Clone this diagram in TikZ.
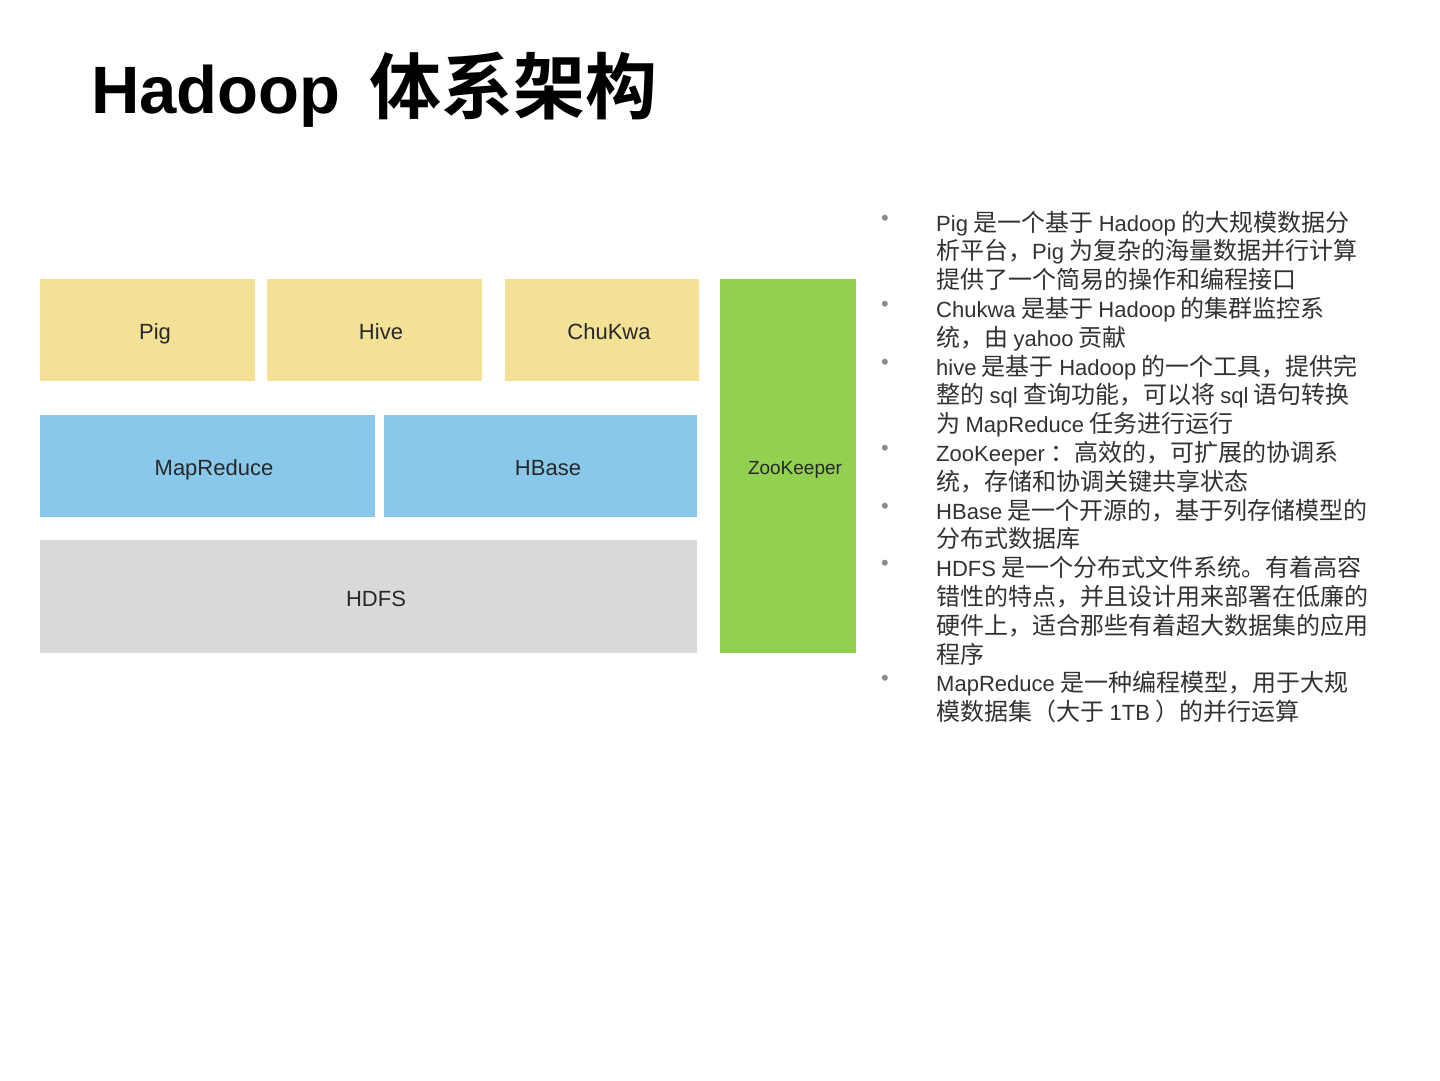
\documentclass[tikz,border=0pt]{standalone}
\usepackage{fontspec}
\setmainfont{Liberation Sans}
\newfontfamily\latin{Liberation Sans}
\newfontfamily\cjk{Noto Sans CJK SC}
\newfontfamily\cjkbf{Noto Sans CJK SC Bold}
\newcommand\en[1]{{\latin\fontsize{22}{28}\selectfont #1}}
\definecolor{ybox}{RGB}{243,225,150}
\definecolor{bbox}{RGB}{137,200,234}
\definecolor{gbox}{RGB}{217,217,217}
\definecolor{zbox}{RGB}{146,208,80}
\definecolor{labc}{RGB}{40,40,40}
\definecolor{txtc}{RGB}{50,50,50}
\definecolor{bulc}{RGB}{140,140,140}
\tikzset{
  block/.style={draw=none, inner sep=0pt, outer sep=0pt, anchor=north west},
  lab/.style={anchor=base, inner sep=0pt, text=labc, font=\latin\fontsize{22}{26}\selectfont},
  line/.style={anchor=base west, inner sep=0pt, text=txtc, font=\cjk\fontsize{24}{28}\selectfont},
  bul/.style={anchor=center, inner sep=0pt, text=bulc, font=\latin\fontsize{22}{24}\selectfont}
}
\begin{document}
\begin{tikzpicture}[x=1pt,y=-1pt]
\fill[white] (0,0) rectangle (1440,1080);
\useasboundingbox (0,0) rectangle (1440,1080);

% title
\node[anchor=base west, inner sep=0pt, text=black] (title) at (91,113)
  {{\latin\bfseries\fontsize{67}{80}\selectfont Hadoop}\hspace*{29pt}{\cjkbf\fontsize{72}{80}\selectfont 体系架构}};

% blocks
\node[block, fill=ybox, minimum width=215pt, minimum height=102pt] (pig) at (40,279) {};
\node[block, fill=ybox, minimum width=215pt, minimum height=102pt] (hive) at (267,279) {};
\node[block, fill=ybox, minimum width=194pt, minimum height=102pt] (chukwa) at (505,279) {};
\node[block, fill=bbox, minimum width=335pt, minimum height=102pt] (mapreduce) at (40,415) {};
\node[block, fill=bbox, minimum width=313pt, minimum height=102pt] (hbase) at (384,415) {};
\node[block, fill=gbox, minimum width=657pt, minimum height=113pt] (hdfs) at (40,540) {};
\node[block, fill=zbox, minimum width=136pt, minimum height=374pt] (zk) at (720,279) {};

% block labels
\node[lab] (pigT) at (155,339) {Pig};
\node[lab] (hiveT) at (381,339) {Hive};
\node[lab] (chukwaT) at (609,339) {ChuKwa};
\node[lab] (mapreduceT) at (214,475) {MapReduce};
\node[lab] (hbaseT) at (548,475) {HBase};
\node[lab] (hdfsT) at (376,606) {HDFS};
\node[lab, font=\latin\fontsize{19}{22}\selectfont] (zkT) at (795,474) {ZooKeeper};

% bullets
\node[bul] (b1) at (885,220) {•};
\node[bul] (b2) at (885,306.4) {•};
\node[bul] (b3) at (885,364) {•};
\node[bul] (b4) at (885,450.4) {•};
\node[bul] (b5) at (885,508) {•};
\node[bul] (b6) at (885,565.6) {•};
\node[bul] (b7) at (885,680.8) {•};

% text lines
\node[line] (t1) at (936,231) {\en{Pig} 是一个基于 \en{Hadoop} 的大规模数据分};
\node[line] (t2) at (936,259.8) {析平台，\en{Pig} 为复杂的海量数据并行计算};
\node[line] (t3) at (936,288.6) {提供了一个简易的操作和编程接口};
\node[line] (t4) at (936,317.4) {\en{Chukwa} 是基于 \en{Hadoop} 的集群监控系};
\node[line] (t5) at (936,346.2) {统，由 \en{yahoo} 贡献};
\node[line] (t6) at (936,375) {\en{hive} 是基于 \en{Hadoop} 的一个工具，提供完};
\node[line] (t7) at (936,403.8) {整的 \en{sql} 查询功能，可以将 \en{sql} 语句转换};
\node[line] (t8) at (936,432.6) {为 \en{MapReduce} 任务进行运行};
\node[line] (t9) at (936,461.4) {\en{ZooKeeper} ：高效的，可扩展的协调系};
\node[line] (t10) at (936,490.2) {统，存储和协调关键共享状态};
\node[line] (t11) at (936,519) {\en{HBase} 是一个开源的，基于列存储模型的};
\node[line] (t12) at (936,547.8) {分布式数据库};
\node[line] (t13) at (936,576.6) {\en{HDFS} 是一个分布式文件系统。有着高容};
\node[line] (t14) at (936,605.4) {错性的特点，并且设计用来部署在低廉的};
\node[line] (t15) at (936,634.2) {硬件上，适合那些有着超大数据集的应用};
\node[line] (t16) at (936,663) {程序};
\node[line] (t17) at (936,691.8) {\en{MapReduce} 是一种编程模型，用于大规};
\node[line] (t18) at (936,720.6) {模数据集（大于 \en{1TB} ）的并行运算};
\end{tikzpicture}
\end{document}
